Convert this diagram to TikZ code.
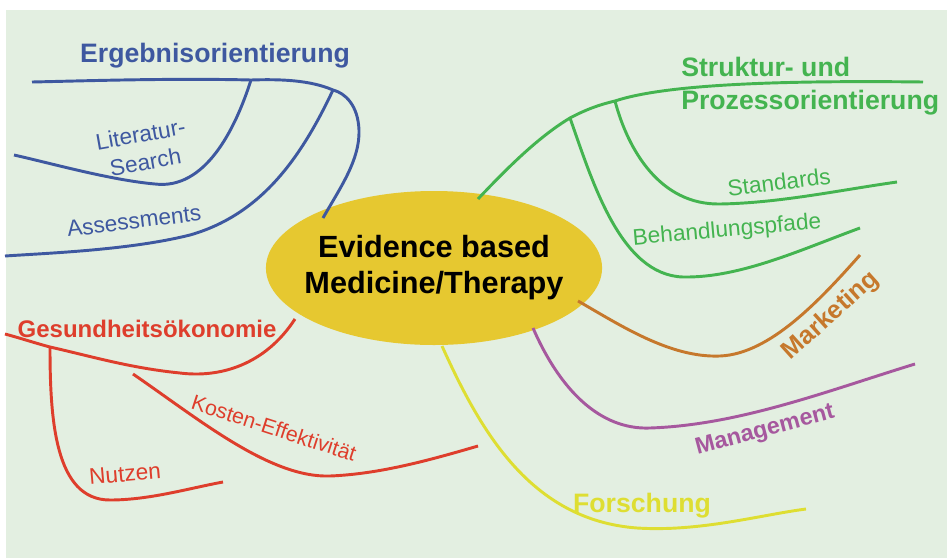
\documentclass[tikz,border=0pt]{standalone}
\usepackage{fontspec}
\setmainfont{Liberation Sans}
\usetikzlibrary{shapes.geometric}
\definecolor{bgcol}{RGB}{227,239,225}
\definecolor{ebmyellow}{RGB}{230,200,48}
\definecolor{ergblue}{RGB}{62,88,160}
\definecolor{strgreen}{RGB}{68,180,80}
\definecolor{gesred}{RGB}{222,62,44}
\definecolor{mktorange}{RGB}{198,120,44}
\definecolor{mgtpurple}{RGB}{166,88,158}
\definecolor{foryellow}{RGB}{222,222,50}
\tikzset{
	branch/.style={line width=2.2pt},
	headline/.style={font=\bfseries\fontsize{20}{24.75}\selectfont, inner sep=0pt},
	leaf/.style={font=\fontsize{17}{21}\selectfont, inner sep=0pt}
}
\begin{document}
\begin{tikzpicture}[x=0.75pt, y=-0.75pt]
	\useasboundingbox (0,0) rectangle (947,558);
	\fill[bgcol] (6,10) rectangle (947,558);
	\node[ellipse, fill=ebmyellow, minimum width=246pt, minimum height=115.5pt, inner xsep=-8pt, inner ysep=0pt, align=center, font=\bfseries\fontsize{23}{27}\selectfont] (ebm) at (434,268) {Evidence based\\Medicine/Therapy};

	\coordinate (erg0) at (323,218);
	\coordinate (ergass) at (333,90);
	\coordinate (erglit) at (251,80);
	\coordinate (ergend) at (32,82);
	\coordinate (litend) at (14,155);
	\coordinate (assend) at (5,256);
	\draw[branch, ergblue] (erg0) .. controls (340,188) and (360,160) .. (359,130) .. controls (358,105) and (345,93) .. (ergass) .. controls (310,80) and (280,79) .. (erglit) .. controls (170,78) and (80,81) .. (ergend);
	\draw[branch, ergblue] (erglit) .. controls (235,130) and (205,190) .. (155,184) .. controls (110,180) and (50,163) .. (litend);
	\draw[branch, ergblue] (ergass) .. controls (300,160) and (260,215) .. (190,235) .. controls (130,250) and (50,253) .. (assend);
	\node[headline, ergblue] (ergebnis) at (215,56) {Ergebnisorientierung};
	\node[leaf, ergblue, rotate=10, align=center] (literatur) at (143,148) {Literatur-\\Search};
	\node[leaf, ergblue, rotate=7] (assess) at (134,221) {Assessments};

	\coordinate (str0) at (478,199);
	\coordinate (strbeh) at (570,118);
	\coordinate (strsta) at (615,101);
	\coordinate (strend) at (923,82);
	\coordinate (staend) at (897,182);
	\coordinate (behend) at (860,228);
	\draw[branch, strgreen] (str0) .. controls (510,165) and (540,136) .. (strbeh) .. controls (585,110) and (598,105) .. (strsta) .. controls (660,86) and (760,80) .. (strend);
	\draw[branch, strgreen] (strsta) .. controls (628,150) and (660,205) .. (720,204) .. controls (780,203) and (840,190) .. (staend);
	\draw[branch, strgreen] (strbeh) .. controls (592,180) and (620,275) .. (683,277) .. controls (740,278) and (800,250) .. (behend);
	\node[headline, strgreen, align=left, anchor=west] (struktur) at (681,86) {Struktur- und\\Prozessorientierung};
	\node[leaf, strgreen, rotate=7] (standards) at (779,182) {Standards};
	\node[leaf, strgreen, rotate=5] (pfade) at (727,231) {Behandlungspfade};

	\coordinate (mkt0) at (578,301);
	\coordinate (mktend) at (860,255);
	\draw[branch, mktorange] (mkt0) .. controls (620,325) and (670,358) .. (720,356) .. controls (770,354) and (820,300) .. (mktend);
	\node[headline, mktorange, rotate=42, font=\bfseries\fontsize{19}{23}\selectfont] (marketing) at (831,316) {Marketing};

	\coordinate (mgt0) at (533,328);
	\coordinate (mgtend) at (915,364);
	\draw[branch, mgtpurple] (mgt0) .. controls (560,390) and (600,430) .. (650,428) .. controls (740,425) and (830,390) .. (mgtend);
	\node[headline, mgtpurple, rotate=15, font=\bfseries\fontsize{17.5}{21}\selectfont] (management) at (765,431) {Management};

	\coordinate (for0) at (442,346);
	\coordinate (forend) at (806,509);
	\draw[branch, foryellow] (for0) .. controls (480,430) and (530,520) .. (637,528) .. controls (700,532) and (760,515) .. (forend);
	\node[headline, foryellow] (forschung) at (642,506) {Forschung};

	\coordinate (ges0) at (295,319);
	\coordinate (gesnut) at (50,347);
	\coordinate (gesend) at (5,334);
	\coordinate (nutend) at (223,482);
	\coordinate (kos0) at (133,374);
	\coordinate (kosend) at (478,446);
	\draw[branch, gesred] (ges0) .. controls (265,365) and (220,378) .. (180,373) .. controls (130,368) and (90,356) .. (gesnut) .. controls (35,343) and (20,338) .. (gesend);
	\draw[branch, gesred] (gesnut) .. controls (50,420) and (55,500) .. (110,500) .. controls (150,500) and (190,488) .. (nutend);
	\draw[branch, gesred] (kos0) .. controls (200,420) and (270,478) .. (330,476) .. controls (380,474) and (430,460) .. (kosend);
	\node[headline, gesred, font=\bfseries\fontsize{18}{22}\selectfont] (gesundheit) at (147,329) {Gesundheitsökonomie};
	\node[leaf, gesred, rotate=-18, font=\fontsize{16}{20}\selectfont] (kosten) at (274,428) {Kosten-Effektivität};
	\node[leaf, gesred, rotate=5] (nutzen) at (125,474) {Nutzen};
\end{tikzpicture}
\end{document}
